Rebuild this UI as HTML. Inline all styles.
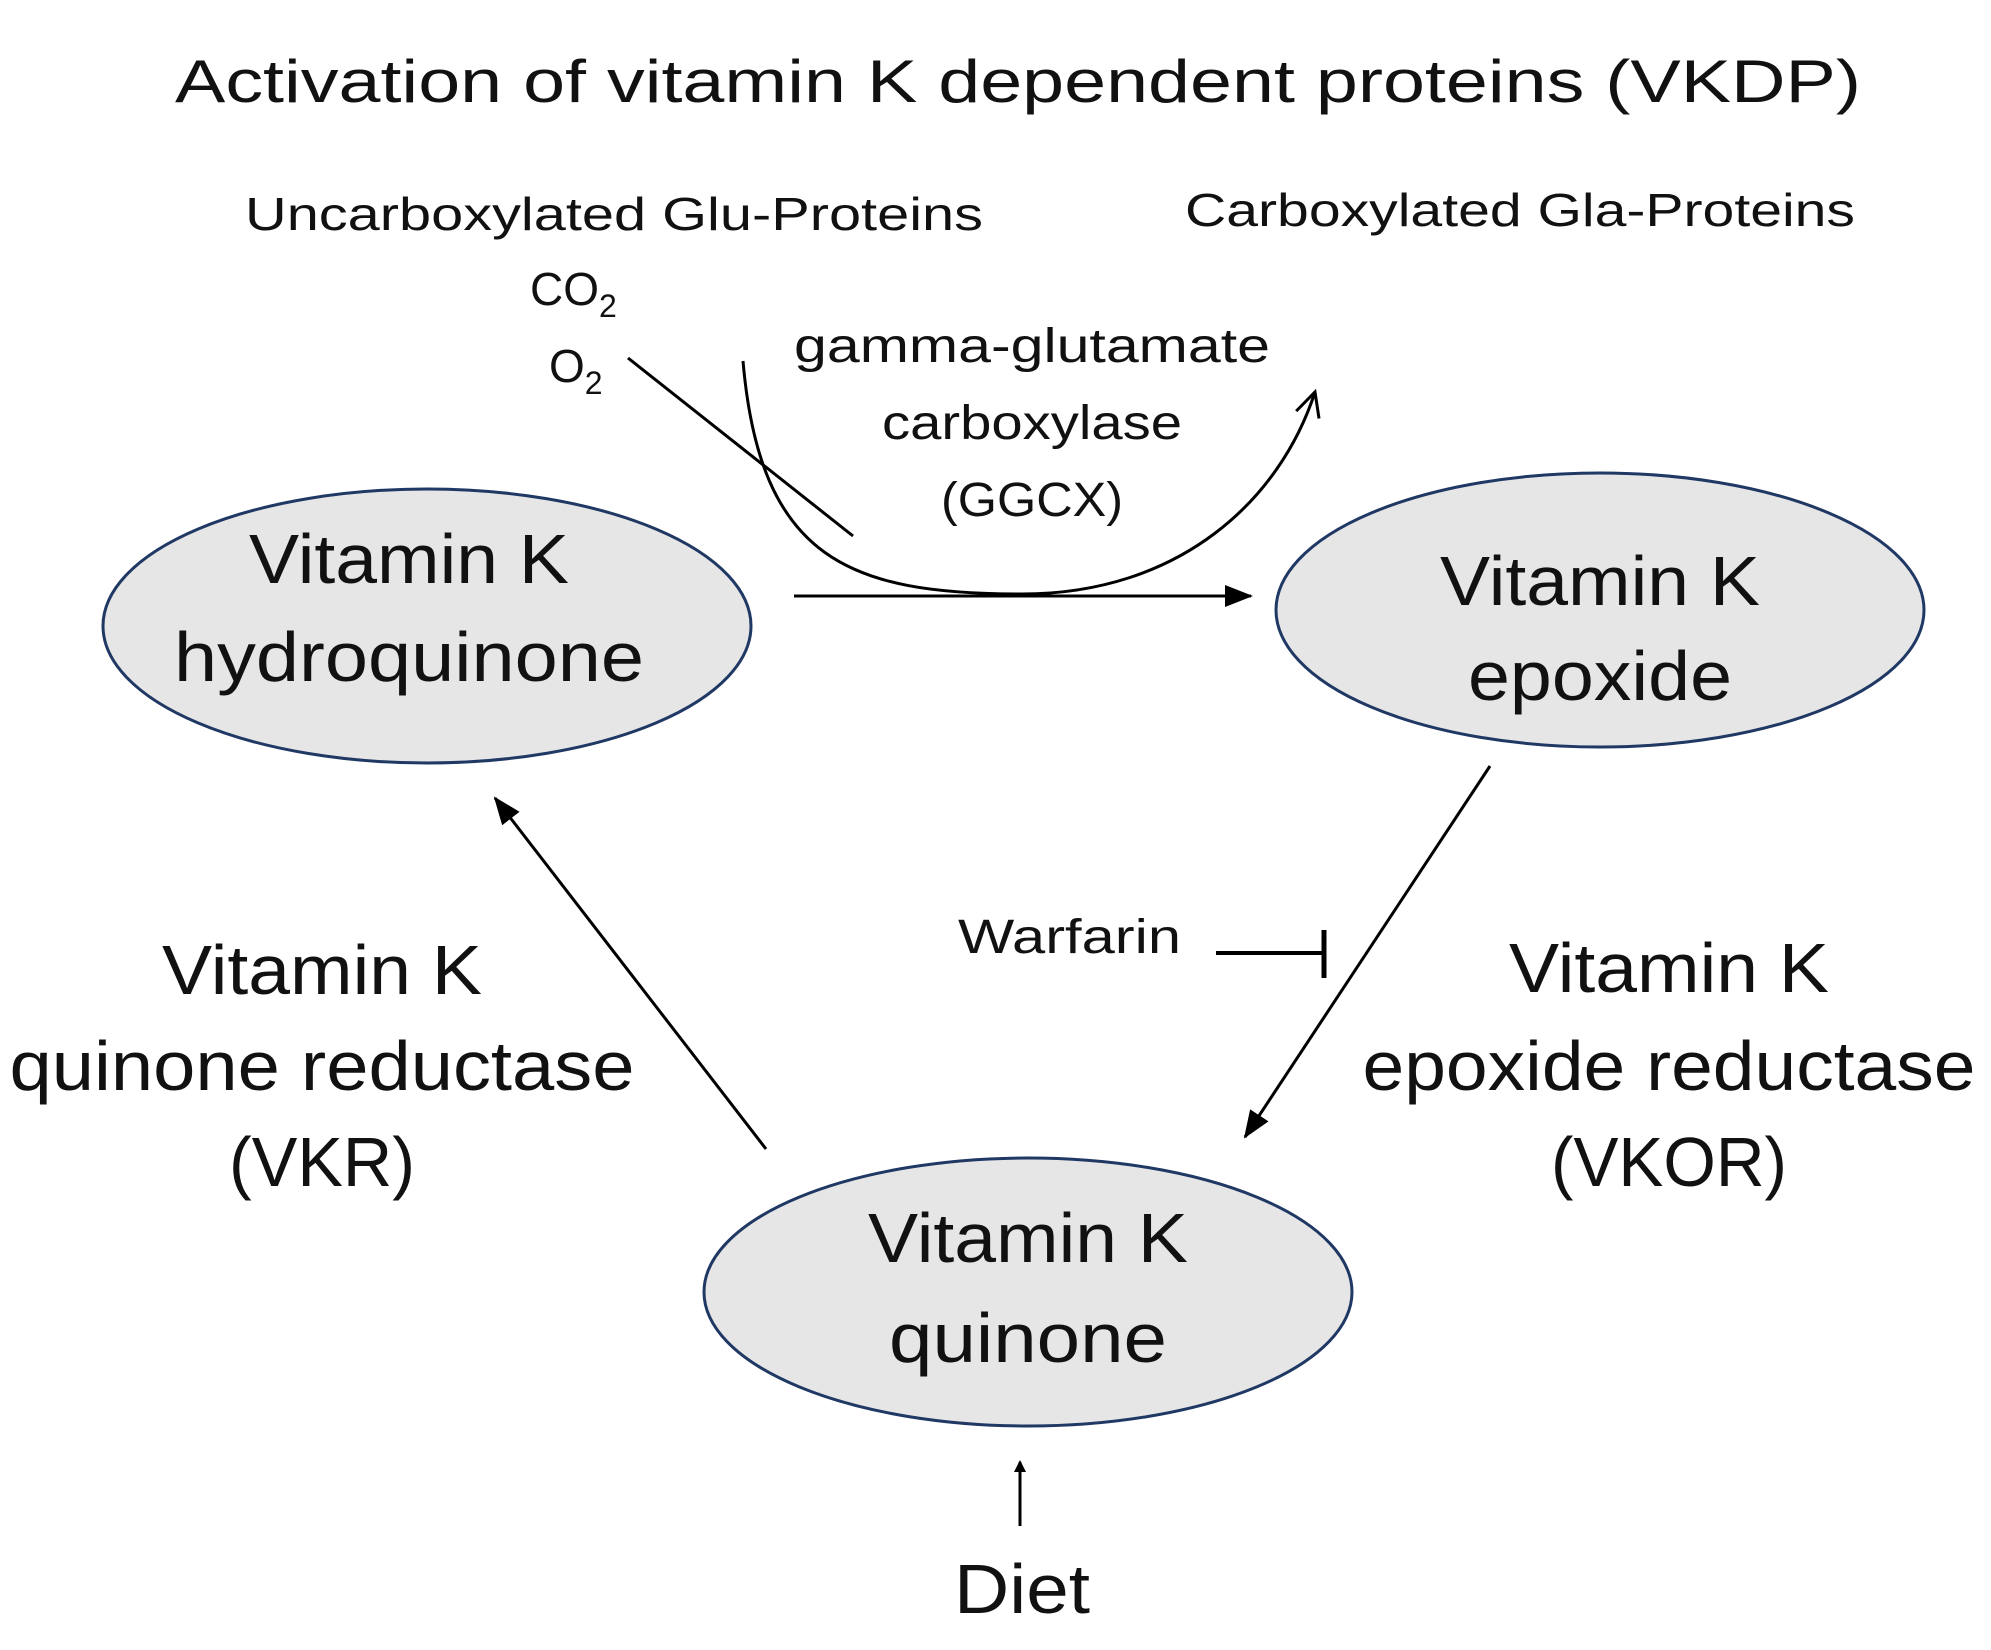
<!DOCTYPE html>
<html><head><meta charset="utf-8"><style>html,body{margin:0;padding:0;background:#fff}svg{display:block}text{font-family:"Liberation Sans",sans-serif;fill:#111}</style></head>
<body>
<svg width="1991" height="1650" viewBox="0 0 1991 1650" xmlns="http://www.w3.org/2000/svg">
<defs>
<marker id="a" markerWidth="12" markerHeight="12" refX="10" refY="6" orient="auto" markerUnits="userSpaceOnUse" viewBox="0 0 12 12"><path d="M0,0 L12,6 L0,12 z" fill="#000" transform="scale(1)"/></marker>
<marker id="big" markerWidth="28" markerHeight="22" refX="26" refY="11" orient="auto" markerUnits="userSpaceOnUse"><path d="M0,0 L28,11 L0,22 z" fill="#000"/></marker>
<marker id="open" markerWidth="30" markerHeight="30" refX="26" refY="15" orient="auto" markerUnits="userSpaceOnUse"><path d="M2,3 L26,15 L2,27" fill="none" stroke="#000" stroke-width="3"/></marker>
</defs>
<text x="1018" y="102" font-size="60" text-anchor="middle" textLength="1686" lengthAdjust="spacingAndGlyphs">Activation of vitamin K dependent proteins (VKDP)</text>
<text x="245" y="230" font-size="46" textLength="738" lengthAdjust="spacingAndGlyphs">Uncarboxylated Glu-Proteins</text>
<text x="1185" y="226" font-size="46" textLength="670" lengthAdjust="spacingAndGlyphs">Carboxylated Gla-Proteins</text>
<text x="530" y="305" font-size="46">CO<tspan font-size="32" dy="12">2</tspan></text>
<text x="549" y="382" font-size="46">O<tspan font-size="32" dy="12">2</tspan></text>
<line x1="628" y1="358" x2="853" y2="536" stroke="#000" stroke-width="3"/>
<path d="M743,361 C760,560 850,594 1022,594 C1180,594 1280,500 1315,392" fill="none" stroke="#000" stroke-width="3" marker-end="url(#open)"/>
<text x="1032" y="362" font-size="48" text-anchor="middle" textLength="476" lengthAdjust="spacingAndGlyphs">gamma-glutamate</text>
<text x="1032" y="439" font-size="48" text-anchor="middle" textLength="300" lengthAdjust="spacingAndGlyphs">carboxylase</text>
<text x="1032" y="516" font-size="48" text-anchor="middle" textLength="182" lengthAdjust="spacingAndGlyphs">(GGCX)</text>
<line x1="794" y1="596" x2="1251" y2="596" stroke="#000" stroke-width="3" marker-end="url(#big)"/>
<ellipse cx="427" cy="626" rx="324" ry="137" fill="#e6e6e6" stroke="#203864" stroke-width="3"/>
<text x="409" y="583" font-size="70" text-anchor="middle" textLength="320" lengthAdjust="spacingAndGlyphs">Vitamin K</text>
<text x="409" y="681" font-size="70" text-anchor="middle" textLength="470" lengthAdjust="spacingAndGlyphs">hydroquinone</text>
<ellipse cx="1600" cy="610" rx="324" ry="137" fill="#e6e6e6" stroke="#203864" stroke-width="3"/>
<text x="1600" y="605" font-size="70" text-anchor="middle" textLength="320" lengthAdjust="spacingAndGlyphs">Vitamin K</text>
<text x="1600" y="700" font-size="70" text-anchor="middle" textLength="264" lengthAdjust="spacingAndGlyphs">epoxide</text>
<ellipse cx="1028" cy="1292" rx="324" ry="134" fill="#e6e6e6" stroke="#203864" stroke-width="3"/>
<text x="1028" y="1262" font-size="70" text-anchor="middle" textLength="320" lengthAdjust="spacingAndGlyphs">Vitamin K</text>
<text x="1028" y="1362" font-size="70" text-anchor="middle" textLength="278" lengthAdjust="spacingAndGlyphs">quinone</text>
<line x1="1490" y1="766" x2="1245" y2="1137" stroke="#000" stroke-width="3" marker-end="url(#big)"/>
<line x1="766" y1="1149" x2="495" y2="798" stroke="#000" stroke-width="3" marker-end="url(#big)"/>
<text x="958" y="953" font-size="48" textLength="223" lengthAdjust="spacingAndGlyphs">Warfarin</text>
<line x1="1216" y1="953" x2="1322" y2="953" stroke="#000" stroke-width="4"/>
<line x1="1324" y1="930" x2="1324" y2="978" stroke="#000" stroke-width="5"/>
<text x="322" y="994" font-size="70" text-anchor="middle" textLength="320" lengthAdjust="spacingAndGlyphs">Vitamin K</text>
<text x="322" y="1090" font-size="70" text-anchor="middle" textLength="625" lengthAdjust="spacingAndGlyphs">quinone reductase</text>
<text x="322" y="1186" font-size="70" text-anchor="middle" textLength="186" lengthAdjust="spacingAndGlyphs">(VKR)</text>
<text x="1669" y="992" font-size="70" text-anchor="middle" textLength="320" lengthAdjust="spacingAndGlyphs">Vitamin K</text>
<text x="1669" y="1090" font-size="70" text-anchor="middle" textLength="613" lengthAdjust="spacingAndGlyphs">epoxide reductase</text>
<text x="1669" y="1186" font-size="70" text-anchor="middle" textLength="236" lengthAdjust="spacingAndGlyphs">(VKOR)</text>
<line x1="1020" y1="1526" x2="1020" y2="1462" stroke="#000" stroke-width="3" marker-end="url(#a)"/>
<text x="1022" y="1613" font-size="70" text-anchor="middle" textLength="136" lengthAdjust="spacingAndGlyphs">Diet</text>
</svg>
</body></html>
